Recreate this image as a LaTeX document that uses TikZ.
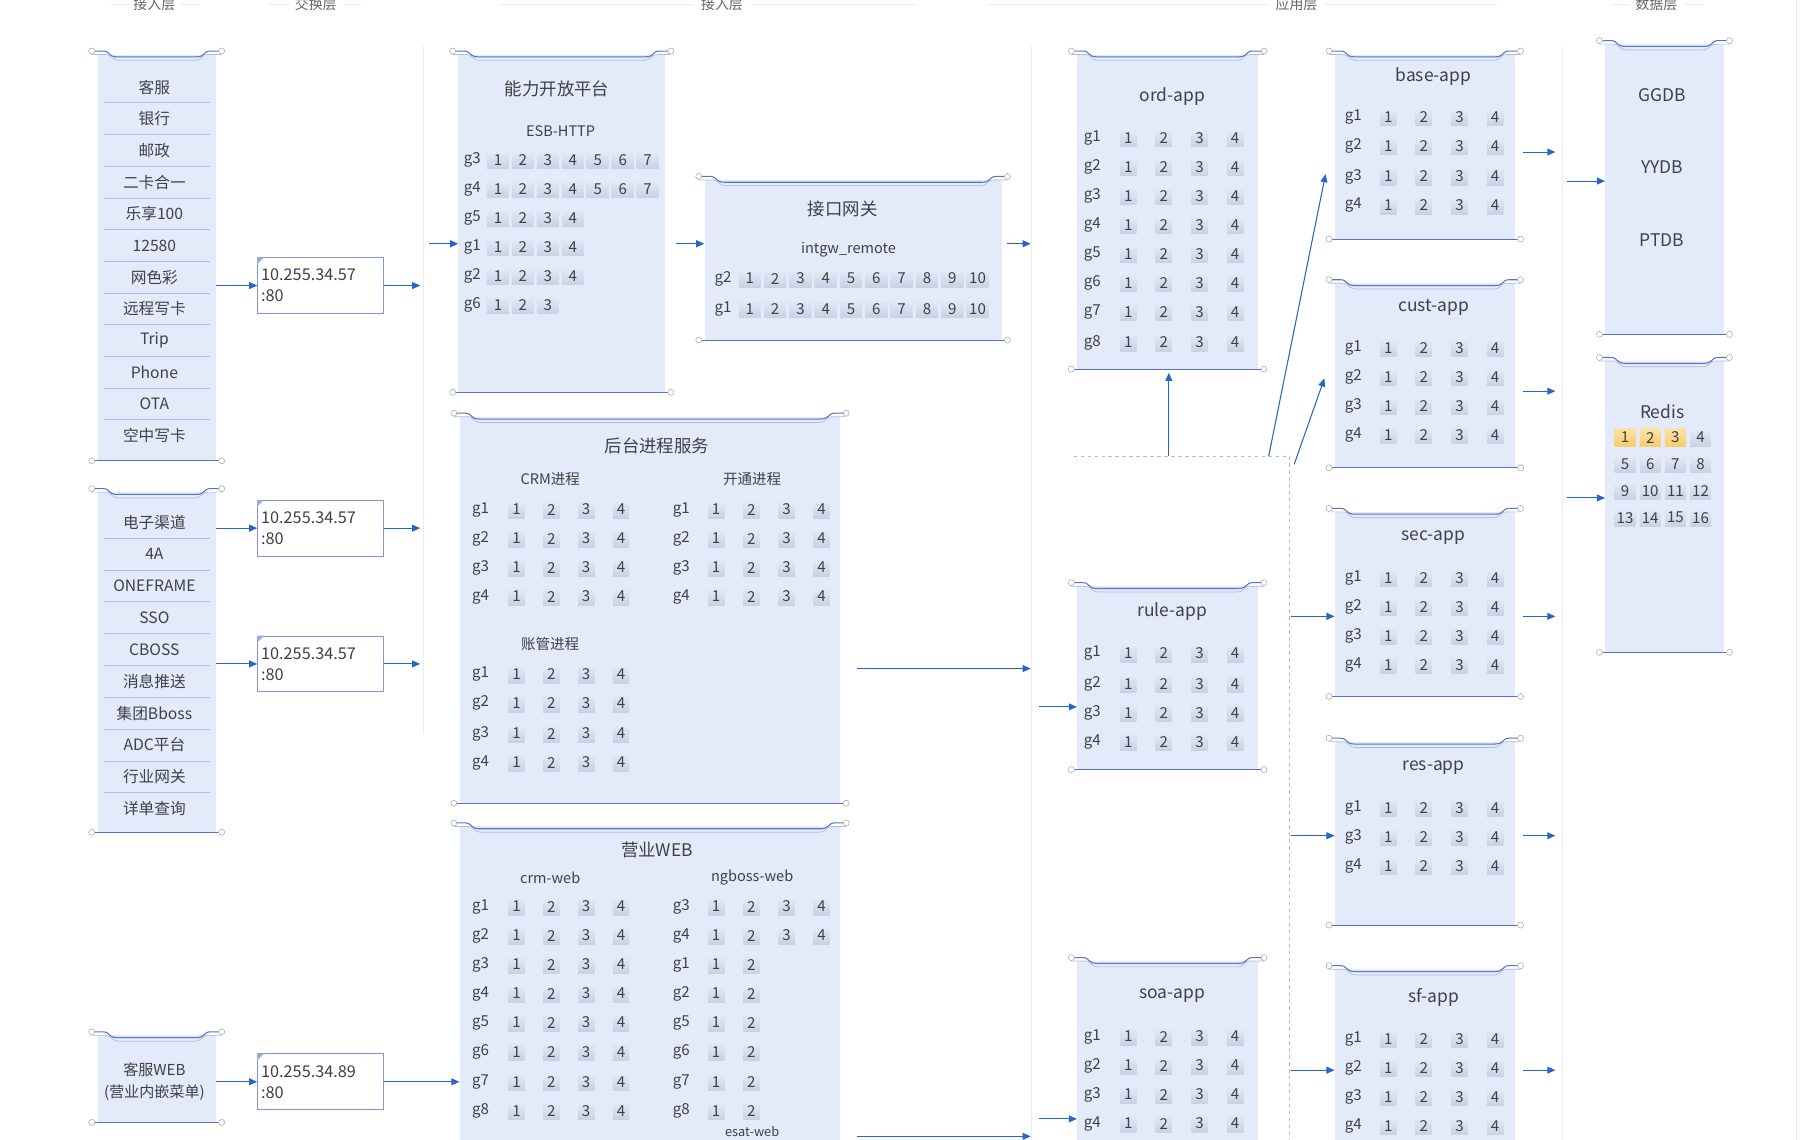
\documentclass[tikz,border=0pt]{standalone}
\usepackage{fontspec}
\setmainfont{Noto Sans CJK SC}
\usetikzlibrary{arrows.meta, fit}

\definecolor{rimblue}{RGB}{84,116,204}
\definecolor{rimlight}{RGB}{170,188,232}
\definecolor{panelblue}{RGB}{227,234,249}
\definecolor{flowblue}{RGB}{38,102,200}
\definecolor{inkgray}{RGB}{64,64,70}
\definecolor{cellgray}{RGB}{200,209,228}
\definecolor{cellorange}{RGB}{250,204,108}
\definecolor{layergray}{RGB}{234,237,243}

\tikzset{
  rim/.style={draw=rimblue, line width=0.9pt},
  rim soft/.style={draw=rimlight, line width=0.6pt},
  rim dot/.style={draw=gray!65, fill=white, line width=0.5pt},
  title/.style={font=\fontsize{15}{17}\selectfont, text=inkgray},
  subtitle/.style={font=\fontsize{12.5}{14}\selectfont, text=inkgray},
  glabel/.style={font=\fontsize{13}{15}\selectfont, text=inkgray},
  cell/.style={top color=panelblue, bottom color=cellgray, minimum width=14pt,
    minimum height=15pt, inner sep=0pt, font=\fontsize{13}{15}\selectfont, text=inkgray},
  hot/.style={cell, top color=cellorange!60, bottom color=cellorange},
  item/.style={font=\fontsize{13.5}{16}\selectfont, text=inkgray},
  sep/.style={draw=rimblue!45, line width=0.6pt},
  ipbox/.style={draw=rimblue!75, fill=white, line width=0.8pt, minimum width=108pt,
    minimum height=48pt, text width=102pt, align=left, inner sep=2pt,
    font=\fontsize{14}{18}\selectfont, text=inkgray},
  flow/.style={-{Triangle[length=7pt,width=6pt]}, line width=0.9pt, draw=flowblue, fill=flowblue},
  hub/.style={dashed, draw=gray!55, line width=0.6pt},
  layer/.style={font=\fontsize{12}{14}\selectfont, text=inkgray!80},
  layer line/.style={draw=layergray, line width=1pt}
}

% panel: name, left x, right x, top y, bottom y
\newcommand{\drawpanel}[5]{%
  \fill[panelblue] (#2+5,#4+3) rectangle (#3-5,#5);
  \node[inner sep=0pt, fit={(#2+5,#4) (#3-5,#5)}] (#1) {};
  \draw[rim soft] (#2,#4+3) -- (#2+12,#4+3) .. controls (#2+18,#4+3) and (#2+16,#4+8) .. (#2+24,#4+8)
    -- (#3-24,#4+8) .. controls (#3-16,#4+8) and (#3-18,#4+3) .. (#3-12,#4+3) -- (#3,#4+3);
  \draw[rim] (#2,#4) -- (#2+10,#4) .. controls (#2+16,#4) and (#2+14,#4+5) .. (#2+22,#4+5)
    -- (#3-22,#4+5) .. controls (#3-14,#4+5) and (#3-16,#4) .. (#3-10,#4) -- (#3,#4);
  \draw[rim] (#2,#5) -- (#3,#5);
  \foreach \cx/\cy in {#2/#4, #3/#4, #2/#5, #3/#5}
    \draw[rim dot] (\cx,\cy) circle[radius=2.6pt];
}

% row of cells: label x, y, label, first x, step, values
\newcommand{\numrow}[6]{%
  \node[glabel] at (#1,#2) {#3};
  \foreach \v [count=\k from 0] in {#6}
    \node[cell] at (#4+\k*#5,#2) {\v};
}

\begin{document}
\begin{tikzpicture}[x=1pt, y=-1pt]
  \useasboundingbox (0,0) rectangle (1568,982);
  \clip (0,0) rectangle (1568,982);

  % layer separators and headers
  \draw[layer line] (365,40) -- (365,632);
  \draw[layer line] (889,40) -- (889,982);
  \draw[layer line] (1346,40) -- (1346,982);
  \draw[layer line] (1548,0) -- (1548,982);
  \draw[layer line] (95,4) -- (112,4) (156,4) -- (172,4);
  \draw[layer line] (232,4) -- (250,4) (296,4) -- (312,4);
  \draw[layer line] (430,4) -- (598,4) (646,4) -- (790,4);
  \draw[layer line] (850,4) -- (1093,4) (1141,4) -- (1290,4);
  \draw[layer line] (1388,4) -- (1404,4) (1451,4) -- (1468,4);
  \node[layer] (h1) at (133,4) {接入层};
  \node[layer] (h2) at (272,4) {交换层};
  \node[layer] (h3) at (622,4) {接入层};
  \node[layer] (h4) at (1117,4) {应用层};
  \node[layer] (h5) at (1427,4) {数据层};

  % 接入渠道
  \drawpanel{left1}{79}{191}{44}{397}
  \foreach \t [count=\k from 0] in {客服,银行,邮政,二卡合一,乐享100,12580,网色彩,远程写卡,Trip,Phone,OTA,空中写卡}
    \node[item] (l1-\k) at (133,75+\k*27.3) {\t};
  \foreach \k in {0,...,10}
    \draw[sep] (90,88.6+\k*27.3) -- (181,88.6+\k*27.3);

  \drawpanel{left2}{79}{191}{421}{717}
  \foreach \t [count=\k from 0] in {电子渠道,4A,ONEFRAME,SSO,CBOSS,消息推送,集团Bboss,ADC平台,行业网关,详单查询}
    \node[item] (l2-\k) at (133,450+\k*27.4) {\t};
  \foreach \k in {0,...,8}
    \draw[sep] (90,463.7+\k*27.4) -- (181,463.7+\k*27.4);

  \drawpanel{left3}{79}{191}{889}{967}
  \node[item, align=center, font=\fontsize{13}{19}\selectfont] (l3) at (133,932) {客服WEB\\(营业内嵌菜单)};

  % 交换层
  \node[ipbox] (ip1) at (276,246) {10.255.34.57\\:80};
  \node[ipbox] (ip2) at (276,455) {10.255.34.57\\:80};
  \node[ipbox] (ip3) at (276,572) {10.255.34.57\\:80};
  \node[ipbox] (ip4) at (276,932) {10.255.34.89\\:80};
  \foreach \b in {ip1,ip2,ip3,ip4}
    \fill[rimblue!60] (\b.north west) -- ++(6,0) -- ++(-6,6) -- cycle;

  \coordinate (sw1) at (362,246);
  \coordinate (sw2) at (362,455);
  \coordinate (sw3) at (362,572);
  \draw[flow] (ip1.west -| left1.east) -- (ip1.west);
  \draw[flow] (ip2.west -| left2.east) -- (ip2.west);
  \draw[flow] (ip3.west -| left2.east) -- (ip3.west);
  \draw[flow] (ip4.west -| left3.east) -- (ip4.west);
  \draw[flow] (ip1.east) -- (sw1);
  \draw[flow] (ip2.east) -- (sw2);
  \draw[flow] (ip3.east) -- (sw3);

  % 能力开放平台
  \drawpanel{esb}{390}{578}{44}{338}
  \node[title] (esb-t) at (480,77) {能力开放平台};
  \node[subtitle] (esb-s) at (483,113) {ESB-HTTP};
  \begin{scope}[cell/.append style={minimum width=19pt}]
    \numrow{407}{138}{g3}{429}{21.5}{1,2,3,4,5,6,7}
    \numrow{407}{163}{g4}{429}{21.5}{1,2,3,4,5,6,7}
    \numrow{407}{188}{g5}{429}{21.5}{1,2,3,4}
    \numrow{407}{213}{g1}{429}{21.5}{1,2,3,4}
    \numrow{407}{238}{g2}{429}{21.5}{1,2,3,4}
    \numrow{407}{263}{g6}{429}{21.5}{1,2,3}
  \end{scope}

  % 接口网关
  \drawpanel{gw}{602}{868}{152}{293}
  \node[title] (gw-t) at (726,180) {接口网关};
  \node[subtitle] (gw-s) at (731,215) {intgw\_remote};
  \begin{scope}[cell/.append style={minimum width=19pt}]
    \numrow{623}{240}{g2}{646}{21.8}{1,2,3,4,5,6,7,8,9,10}
    \numrow{623}{266}{g1}{646}{21.8}{1,2,3,4,5,6,7,8,9,10}
  \end{scope}

  \coordinate (esbin) at (370,210);
  \coordinate (gwin) at (582,210);
  \coordinate (gwout) at (888,210);
  \draw[flow] (esbin) -- (esb.west |- esbin);
  \draw[flow] (gwin) -- (gw.west |- gwin);
  \draw[flow] ([xshift=4pt]gw.east |- gwout) -- (gwout);

  % 后台进程服务
  \drawpanel{bg}{391}{729}{356}{692}
  \node[title] (bg-t) at (566,384) {后台进程服务};
  \node[subtitle] (bg-a) at (474,413) {CRM进程};
  \node[subtitle] (bg-b) at (648,413) {开通进程};
  \node[subtitle] (bg-c) at (474,555) {账管进程};
  \foreach \g/\y in {g1/439,g2/464,g3/489,g4/514} {
    \numrow{414}{\y}{\g}{445}{30}{1,2,3,4}
    \numrow{587}{\y}{\g}{617}{30.3}{1,2,3,4}
  }
  \foreach \g/\y in {g1/581,g2/606,g3/632,g4/657} {
    \numrow{414}{\y}{\g}{445}{30}{1,2,3,4}
  }

  % 营业WEB
  \drawpanel{web}{391}{729}{709}{1000}
  \node[title] (web-t) at (566,732) {营业WEB};
  \node[subtitle] (web-a) at (474,756) {crm-web};
  \node[subtitle] (web-b) at (648,756) {ngboss-web};
  \node[subtitle, font=\fontsize{11}{12}\selectfont] (web-c) at (648,975) {esat-web};
  \foreach \g/\y in {g1/781,g2/806,g3/831,g4/856,g5/881,g6/906,g7/932,g8/957} {
    \numrow{414}{\y}{\g}{445}{30}{1,2,3,4}
  }
  \foreach \g/\y in {g3/781,g4/806} {
    \numrow{587}{\y}{\g}{617}{30.3}{1,2,3,4}
  }
  \foreach \g/\y in {g1/831,g2/856,g5/881,g6/906,g7/932,g8/957} {
    \numrow{587}{\y}{\g}{617}{30.3}{1,2}
  }

  \coordinate (bgout) at (888,576);
  \coordinate (webout) at (888,979);
  \draw[flow] (ip4.east) -- (web.west |- ip4.east);
  \draw[flow] ([xshift=14pt]bg.east |- bgout) -- (bgout);
  \draw[flow] ([xshift=14pt]web.east |- webout) -- (webout);

  % 应用层
  \drawpanel{ord}{923}{1089}{44}{318}
  \node[title] (ord-t) at (1010,83) {ord-app};
  \foreach \g/\y in {g1/119,g2/144,g3/169,g4/194,g5/219,g6/244,g7/269,g8/295} {
    \numrow{941}{\y}{\g}{972}{30.7}{1,2,3,4}
  }

  \drawpanel{rule}{923}{1089}{502}{663}
  \node[title] (rule-t) at (1010,527) {rule-app};
  \foreach \g/\y in {g1/563,g2/589,g3/614,g4/639} {
    \numrow{941}{\y}{\g}{972}{30.7}{1,2,3,4}
  }

  \drawpanel{soa}{923}{1089}{825}{1000}
  \node[title] (soa-t) at (1010,858) {soa-app};
  \foreach \g/\y in {g1/893,g2/918,g3/943,g4/968} {
    \numrow{941}{\y}{\g}{972}{30.7}{1,2,3,4}
  }

  \drawpanel{base}{1145}{1310}{44}{206}
  \node[title] (base-t) at (1235,66) {base-app};
  \foreach \g/\y in {g1/101,g2/126,g3/152,g4/177} {
    \numrow{1166}{\y}{\g}{1196}{30.7}{1,2,3,4}
  }

  \drawpanel{cust}{1145}{1310}{241}{403}
  \node[title] (cust-t) at (1235,265) {cust-app};
  \foreach \g/\y in {g1/300,g2/325,g3/350,g4/375} {
    \numrow{1166}{\y}{\g}{1196}{30.7}{1,2,3,4}
  }

  \drawpanel{sec}{1145}{1310}{438}{600}
  \node[title] (sec-t) at (1235,463) {sec-app};
  \foreach \g/\y in {g1/498,g2/523,g3/548,g4/573} {
    \numrow{1166}{\y}{\g}{1196}{30.7}{1,2,3,4}
  }

  \drawpanel{res}{1145}{1310}{636}{797}
  \node[title] (res-t) at (1235,661) {res-app};
  \foreach \g/\y in {g1/696,g3/721,g4/746} {
    \numrow{1166}{\y}{\g}{1196}{30.7}{1,2,3,4}
  }

  \drawpanel{sf}{1145}{1310}{832}{1000}
  \node[title] (sf-t) at (1235,859) {sf-app};
  \foreach \g/\y in {g1/895,g2/920,g3/945,g4/970} {
    \numrow{1166}{\y}{\g}{1196}{30.7}{1,2,3,4}
  }

  % 分发
  \coordinate (hubA) at (1007,393);
  \coordinate (hubB) at (1093,393);
  \coordinate (hubC) at (1115,400);
  \coordinate (baseIn) at (1142,150);
  \coordinate (custIn) at (1141,326);
  \draw[hub] (925,393) -- (1111,393) -- (1111,982);
  \draw[flow, shorten >=3pt] (hubA) -- (hubA |- ord.south);
  \draw[flow] (hubB) -- (baseIn);
  \draw[flow] (hubC) -- (custIn);

  \coordinate (rulein) at (895,609);
  \coordinate (soain) at (895,964);
  \draw[flow] (rulein) -- (rule.west |- rulein);
  \draw[flow] (soain) -- (soa.west |- soain);

  \foreach \a/\y in {sec/531,res/720,sf/922}
    \draw[flow] (1112,\y) -- (\a.west |- 0,\y);
  \foreach \a/\y in {base/131,cust/337,sec/531,res/720,sf/922}
    \draw[flow] ([xshift=7pt]\a.east |- 0,\y) -- (1340,\y);

  % 数据层
  \drawpanel{db}{1378}{1490}{35}{288}
  \node[title] (gg) at (1432,82) {GGDB};
  \node[title] (yy) at (1432,144) {YYDB};
  \node[title] (pt) at (1432,207) {PTDB};

  \drawpanel{redis}{1378}{1490}{308}{562}
  \node[title] (redis-t) at (1432,355) {Redis};
  \begin{scope}[cell/.append style={minimum width=18pt}]
    \foreach \v [count=\k from 0] in {1,2,3}
      \node[hot] (r\v) at (1400+\k*21.7,377) {\v};
    \node[cell] (r4) at (1465,377) {4};
    \foreach \r [count=\j from 1] in {{5,6,7,8},{9,10,11,12},{13,14,15,16}} {
      \foreach \v [count=\k from 0] in \r
        \node[cell] (r\v) at (1400+\k*21.7,377+\j*23) {\v};
    }
  \end{scope}

  \coordinate (dbin) at (1350,156);
  \coordinate (redisin) at (1350,429);
  \draw[flow] (dbin) -- (db.west |- dbin);
  \draw[flow] (redisin) -- (redis.west |- redisin);
\end{tikzpicture}
\end{document}
